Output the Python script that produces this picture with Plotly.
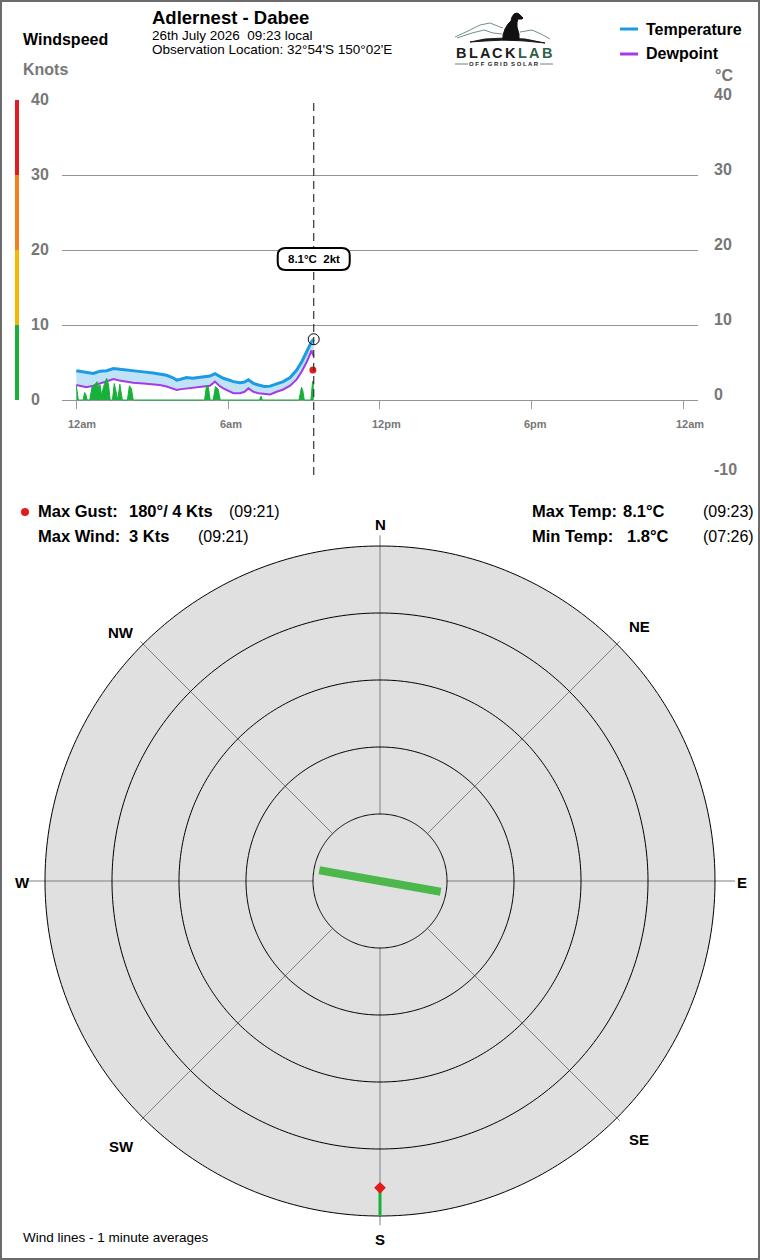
import numpy as np
import plotly.graph_objects as go

W, H = 760, 1260
FONT = "Liberation Sans, Arial, sans-serif"

# ---------------- data ----------------
temp_hours = [0.0, 0.2, 0.4, 0.67, 0.94, 1.2, 1.47, 1.7, 1.86, 2.25, 2.65, 3.04, 3.3, 3.57, 3.8, 3.97,
              4.15, 4.36, 4.6, 4.89, 5.1, 5.28, 5.48, 5.65, 5.81, 6.0, 6.21, 6.47, 6.65, 6.8, 7.0, 7.2,
              7.43, 7.66, 7.92, 8.18, 8.45, 8.71, 8.91, 9.11, 9.3, 9.383]
temperature = [3.9, 3.8, 3.7, 3.55, 3.85, 3.9, 4.2, 4.1, 4.0, 3.9, 3.75, 3.6, 3.5, 3.3, 3.0, 2.65,
               2.8, 3.0, 2.9, 3.05, 3.1, 3.2, 3.5, 3.2, 2.9, 2.7, 2.45, 2.3, 2.4, 2.7, 2.2, 2.0,
               1.8, 1.85, 2.2, 2.45, 3.0, 4.0, 5.1, 6.45, 7.8, 8.1]
dewpoint = [2.0, 1.9, 1.7, 1.9, 2.2, 2.4, 2.8, 2.6, 2.5, 2.3, 2.2, 2.1, 2.0, 1.8, 1.6, 1.35,
            1.45, 1.55, 1.6, 1.8, 1.85, 1.9, 2.45, 1.9, 1.55, 1.2, 0.9, 0.9, 1.1, 1.55, 1.1, 0.9,
            0.8, 0.75, 1.1, 1.4, 1.9, 2.75, 3.8, 5.1, 6.6, 5.8]

wind_hours = [0.0, 0.03, 0.08, 0.27, 0.33, 0.38, 0.43, 0.53, 0.62, 0.7, 0.82, 0.88, 0.94, 1.0,
              1.08, 1.2, 1.27, 1.34, 1.43, 1.5, 1.56, 1.62, 1.64, 1.72, 1.82, 2.02, 2.1, 2.18, 2.25,
              5.07, 5.15, 5.22, 5.29, 5.41, 5.5, 5.6, 5.69, 7.24, 7.3, 7.35, 8.8, 8.9, 8.95, 9.01,
              9.27, 9.34, 9.383]
wind_knots = [1.9, 1.3, 0, 0, 1.0, 0.7, 0, 0, 1.7, 1.9, 2.45, 1.7, 2.0, 0.6,
              1.8, 2.9, 2.1, 0, 0, 2.2, 1.2, 0, 0, 2.1, 0, 0, 1.9, 1.5, 0,
              0, 2.0, 1.7, 0, 0, 1.8, 1.5, 0, 0, 0.5, 0, 0, 1.7, 1.3, 0,
              0, 2.5, 2.0]

obs_hour = 9.383
obs_temp = 8.1
obs_wind = 2
gust_hour = 9.35
gust_knots = 4
gust_dir = 180
max_wind = 3

x_tick_vals = [0, 6, 12, 18, 24]
x_tick_text = ["12am", "6am", "12pm", "6pm", "12am"]
knot_ticks = [0, 10, 20, 30, 40]
temp_ticks = [40, 30, 20, 10, 0, -10]
band_edges = [0, 10, 20, 30, 40]
band_colors = ["#19b03a", "#f4b800", "#f7801e", "#e31b23"]

# rose
rose_rings = [1, 2, 3, 4, 5]
wind_line_dirs = [280, 100]
wind_line_len = [0.92, 0.92]
gust_marker_r = 4.58
compass_labels = ["N", "NE", "E", "SE", "S", "SW", "W", "NW"]
compass_dirs = [0, 45, 90, 135, 180, 225, 270, 315]
spoke_len = [5.16, 5.06, 5.3, 5.06, 5.14, 5.06, 5.28, 5.06]

TEMP_C = "#1a9be3"
DEW_C = "#a53ae6"
FILL_C = "#bfe2f6"
WIND_C = "#17b03a"
GRAY = "#777777"


def px(x):
    return x / W


def py(y):
    return 1 - y / H


fig = go.Figure()

# ---------------- top chart ----------------
fig.add_trace(go.Scatter(x=temp_hours, y=dewpoint, mode="lines",
                         line=dict(color=DEW_C, width=2), xaxis="x", yaxis="y",
                         hoverinfo="skip", showlegend=False))
fig.add_trace(go.Scatter(x=temp_hours, y=temperature, mode="lines", fill="tonexty",
                         fillcolor=FILL_C, line=dict(color=TEMP_C, width=3), xaxis="x", yaxis="y",
                         hoverinfo="skip", showlegend=False))
fig.add_trace(go.Scatter(x=wind_hours, y=wind_knots, mode="lines", fill="tozeroy",
                         fillcolor=WIND_C, line=dict(color=WIND_C, width=1), xaxis="x", yaxis="y",
                         hoverinfo="skip", showlegend=False))
fig.add_trace(go.Scatter(x=[gust_hour], y=[gust_knots], mode="markers",
                         marker=dict(color="#e31b1b", size=7), xaxis="x", yaxis="y",
                         hoverinfo="skip", showlegend=False))
fig.add_trace(go.Scatter(x=[obs_hour], y=[obs_temp], mode="markers",
                         marker=dict(color="rgba(0,0,0,0)", size=11, line=dict(color="black", width=1)),
                         xaxis="x", yaxis="y", hoverinfo="skip", showlegend=False))

shapes = []
annotations = []

# dashed "now" line
shapes.append(dict(type="line", xref="x", yref="y", x0=obs_hour, x1=obs_hour, y0=-10, y1=40,
                   line=dict(color="#333333", width=1.2, dash="8px,5px"), layer="above"))

# rounded callout box
pph = 636 / (24.57 + 0.565)
hw = 36 / pph
rx = 8 / pph
y_top, y_bot = 20.27, 17.33
ry = 1.0
x0, x1 = obs_hour - hw, obs_hour + hw
path = (f"M {x0+rx},{y_top} L {x1-rx},{y_top} Q {x1},{y_top} {x1},{y_top-ry} "
        f"L {x1},{y_bot+ry} Q {x1},{y_bot} {x1-rx},{y_bot} L {x0+rx},{y_bot} "
        f"Q {x0},{y_bot} {x0},{y_bot+ry} L {x0},{y_top-ry} Q {x0},{y_top} {x0+rx},{y_top} Z")
shapes.append(dict(type="path", xref="x", yref="y", path=path, fillcolor="white",
                   line=dict(color="black", width=2), layer="above"))
annotations.append(dict(x=obs_hour, y=(y_top + y_bot) / 2, xref="x", yref="y",
                        text=f"<b>{obs_temp}°C\u00a0\u00a0{obs_wind}kt</b>", showarrow=False,
                        font=dict(size=11.5, color="black")))

# colored knots bar
for i, c in enumerate(band_colors):
    shapes.append(dict(type="line", xref="paper", yref="y", x0=px(17), x1=px(17),
                       y0=band_edges[i], y1=band_edges[i + 1], line=dict(color=c, width=4)))

# axis labels as text
for v in knot_ticks:
    annotations.append(dict(x=px(29), y=v, xref="paper", yref="y", xanchor="left",
                            text=f"<b>{v}</b>", showarrow=False, font=dict(size=16, color=GRAY)))
for v in temp_ticks:
    annotations.append(dict(x=px(712), y=v, yshift=5, xref="paper", yref="y", xanchor="left",
                            text=f"<b>{v}</b>", showarrow=False, font=dict(size=16, color=GRAY)))
for v, t in zip(x_tick_vals, x_tick_text):
    annotations.append(dict(x=v, y=py(416), xref="x", yref="paper", xanchor="left", xshift=-10,
                            text=f"<b>{t}</b>", showarrow=False, font=dict(size=11, color=GRAY)))


def txt(x, y, s, size=16, bold=False, color="black", anchor="left"):
    if anchor == "left":
        x = x - 2
    annotations.append(dict(x=px(x), y=py(y), xref="paper", yref="paper", xanchor=anchor,
                            yanchor="middle", text=(f"<b>{s}</b>" if bold else s), showarrow=False,
                            font=dict(size=size, color=color)))


txt(23, 39, "Windspeed", 16, True)
txt(23, 69, "Knots", 16, True, GRAY)
txt(715, 75, "°C", 16, True, GRAY)
txt(152, 18, "Adlernest - Dabee", 18.5, True)
txt(152, 35, "26th July 2026\u00a0\u00a009:23 local", 13.5)
txt(152, 50, "Observation Location: 32°54'S 150°02'E", 13.5)

# legend
txt(646, 29, "Temperature", 16, True)
txt(646, 54, "Dewpoint", 16, True)
shapes.append(dict(type="line", xref="paper", yref="paper", x0=px(620), x1=px(638), y0=py(29), y1=py(29),
                   line=dict(color=TEMP_C, width=3)))
shapes.append(dict(type="line", xref="paper", yref="paper", x0=px(620), x1=px(638), y0=py(54), y1=py(54),
                   line=dict(color=DEW_C, width=3)))

# logo
logo_letters = "BLACKLAB"
for i, ch in enumerate(logo_letters):
    col = "#1c1c1c" if i < 5 else "#2f6048"
    txt(461 + 12.25 * i, 53, ch, 14.5, True, col, "center")
txt(504, 64, "O F F\u00a0\u00a0G R I D\u00a0\u00a0S O L A R", 6, True, "#1c1c1c", "center")
for xa, xb in [(455, 468), (540, 553)]:
    shapes.append(dict(type="line", xref="paper", yref="paper", x0=px(xa), x1=px(xb), y0=py(64), y1=py(64),
                       line=dict(color="#5c8a70", width=1)))


def ppath(pts, close=True):
    s = "M " + " L ".join(f"{px(a)},{py(b)}" for a, b in pts)
    return s + (" Z" if close else "")


mount1 = [(455, 37), (468, 31), (480, 25), (490, 23), (500, 27), (503, 28)]
mount2 = [(520, 32), (532, 30), (541, 34), (550, 39)]
mount3 = [(457, 38), (472, 33), (484, 30), (493, 33), (502, 34)]
for m in (mount1, mount2, mount3):
    shapes.append(dict(type="path", xref="paper", yref="paper", path=ppath(m, False),
                       line=dict(color="#6f9480", width=1)))
ground = [(470, 42), (485, 39), (505, 38), (525, 39), (545, 43), (525, 41), (505, 40), (485, 41)]
shapes.append(dict(type="path", xref="paper", yref="paper", path=ppath(ground),
                   fillcolor="#1c1c1c", line=dict(color="#1c1c1c", width=1)))
dog = [(503, 40), (503, 35), (505, 29), (508, 24), (511, 21), (512, 17), (514, 14), (517, 13),
       (519, 14), (521, 16), (523, 18), (522, 19), (518, 19), (517, 22), (517, 27), (519, 34),
       (519, 40)]
shapes.append(dict(type="path", xref="paper", yref="paper", path=ppath(dog),
                   fillcolor="#111111", line=dict(color="#111111", width=1)))

# stats rows
shapes.append(dict(type="circle", xref="paper", yref="paper", x0=px(21), x1=px(29), y0=py(508), y1=py(516),
                   fillcolor="#e31b1b", line=dict(color="#e31b1b", width=0)))
SS = 16.5
txt(38, 511, "Max Gust:", SS, True)
txt(129, 511, f"{gust_dir}°/ {gust_knots} Kts", SS, True)
txt(229, 511, "(09:21)", 16)
txt(38, 536, "Max Wind:", SS, True)
txt(129, 536, f"{max_wind} Kts", SS, True)
txt(198, 536, "(09:21)", 16)
txt(532, 511, "Max Temp:", SS, True)
txt(623, 511, f"{max(temperature)}°C", SS, True)
txt(703, 511, "(09:23)", 16)
txt(532, 536, "Min Temp:", SS, True)
txt(627, 536, f"{min(temperature)}°C", SS, True)
txt(703, 536, "(07:26)", 16)

# compass labels
compass_pos = [(380, 524), (639, 626), (742, 882), (639, 1139), (380, 1239), (121, 1146), (22, 882), (121, 632)]
for lab, (cx, cy) in zip(compass_labels, compass_pos):
    txt(cx, cy, lab, 15, True, "black", "center")

txt(23, 1237, "Wind lines - 1 minute averages", 13.5)

# outer frame
shapes.append(dict(type="rect", xref="paper", yref="paper", x0=0, x1=1, y0=0, y1=1,
                   line=dict(color="#6b6b6b", width=4)))

# ---------------- wind rose (polar) ----------------
circ = np.linspace(0, 360, 361)
fig.add_trace(go.Scatterpolar(r=[5] * len(circ), theta=circ, mode="lines", fill="toself",
                              fillcolor="#e0e0e0", line=dict(width=0, color="#e0e0e0"),
                              hoverinfo="skip", showlegend=False))
sr, st = [], []
for d, L in zip(compass_dirs, spoke_len):
    sr += [1, L, None]
    st += [d, d, None]
fig.add_trace(go.Scatterpolar(r=sr, theta=st, mode="lines", line=dict(color="#808080", width=1),
                              hoverinfo="skip", showlegend=False))
for k in rose_rings:
    fig.add_trace(go.Scatterpolar(r=[k] * len(circ), theta=circ, mode="lines",
                                  line=dict(color="black", width=1), hoverinfo="skip", showlegend=False))
fig.add_trace(go.Scatterpolar(r=[wind_line_len[0], 0, wind_line_len[1]],
                              theta=[wind_line_dirs[0], wind_line_dirs[0], wind_line_dirs[1]],
                              mode="lines", line=dict(color="#4cb84c", width=8),
                              hoverinfo="skip", showlegend=False))
fig.add_trace(go.Scatterpolar(r=[gust_marker_r, 5], theta=[gust_dir, gust_dir], mode="lines",
                              line=dict(color=WIND_C, width=3), hoverinfo="skip", showlegend=False))
fig.add_trace(go.Scatterpolar(r=[gust_marker_r], theta=[gust_dir], mode="markers",
                              marker=dict(symbol="diamond", color="#e31b1b", size=9),
                              hoverinfo="skip", showlegend=False))

R = 335 * 5.3 / 5

fig.update_layout(
    width=W, height=H, autosize=False,
    margin=dict(l=0, r=0, t=0, b=0),
    paper_bgcolor="white", plot_bgcolor="white",
    font=dict(family=FONT, color="black"),
    showlegend=False,
    xaxis=dict(domain=[px(62), px(698)], range=[-0.565, 24.57], tickvals=x_tick_vals,
               showticklabels=False,
               ticks="outside", ticklen=8, tickcolor="#999999", showgrid=False, zeroline=False,
               showline=False, anchor="free", position=py(400), fixedrange=True),
    yaxis=dict(domain=[py(475), py(100)], range=[-10, 40], tickvals=temp_ticks, showticklabels=False,
               showgrid=True, gridcolor="#959595", gridwidth=1, zeroline=False, showline=False,
               ticks="", fixedrange=True),
    polar=dict(domain=dict(x=[px(380 - R), px(380 + R)], y=[py(881 + R), py(881 - R)]),
               bgcolor="rgba(0,0,0,0)",
               radialaxis=dict(range=[0, 5.3], visible=False),
               angularaxis=dict(direction="clockwise", rotation=90, visible=False)),
    shapes=shapes,
    annotations=annotations,
)

fig.write_html("out.html", config={"displayModeBar": False})
